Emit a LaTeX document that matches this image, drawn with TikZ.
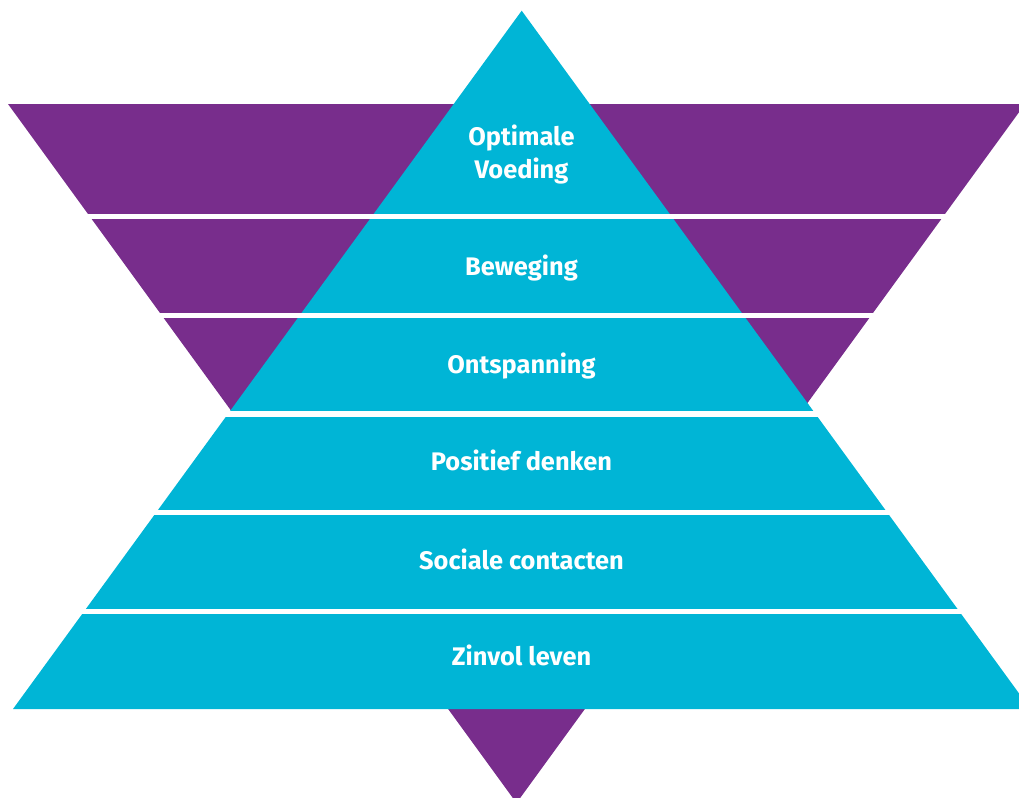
\documentclass[tikz,border=0pt]{standalone}
\usepackage{fontspec}
\setmainfont{Fira Sans}
\usepackage{tikz}
\definecolor{blauw}{RGB}{0,181,214}
\definecolor{paars}{RGB}{120,45,140}
\tikzset{laag/.style={text=white, font=\fontsize{12.7}{16.5}\selectfont\bfseries, align=center, inner sep=0pt}}

\begin{document}
\begin{tikzpicture}[x=0.5pt, y=-0.5pt]
  \useasboundingbox (0,0) rectangle (1019,798);

  % purple triangle upside down, behind the pyramid
  \fill[paars](8,104) -- (1025,104) -- (516.5,803) -- cycle;

  % the pyramid itself
  \fill[blauw](521.7,10.7) -- (1030.4,709) -- (13,709) -- cycle;

  % white strips between the layers
  \fill[white](0,214) rectangle (1040,219);
  \fill[white](0,313) rectangle (1040,318);
  \fill[white](0,411) rectangle (1040,417);
  \fill[white](0,510) rectangle (1040,515);
  \fill[white](0,609) rectangle (1040,614);

  % layer texts, top to bottom (base of a two line node is its last line)
  \node[laag, anchor=base](voeding) at (521.5,178) {Optimale\\Voeding};
  \node[laag, anchor=base](beweging) at (521.5,275.7) {Beweging};
  \node[laag, anchor=base](ontspanning) at (521.5,373) {Ontspanning};
  \node[laag, anchor=base](denken) at (521.5,470) {Positief denken};
  \node[laag, anchor=base](contacten) at (521.5,569) {Sociale contacten};
  \node[laag, anchor=base](leven) at (521.5,665.7) {Zinvol leven};

\end{tikzpicture}
\end{document}
